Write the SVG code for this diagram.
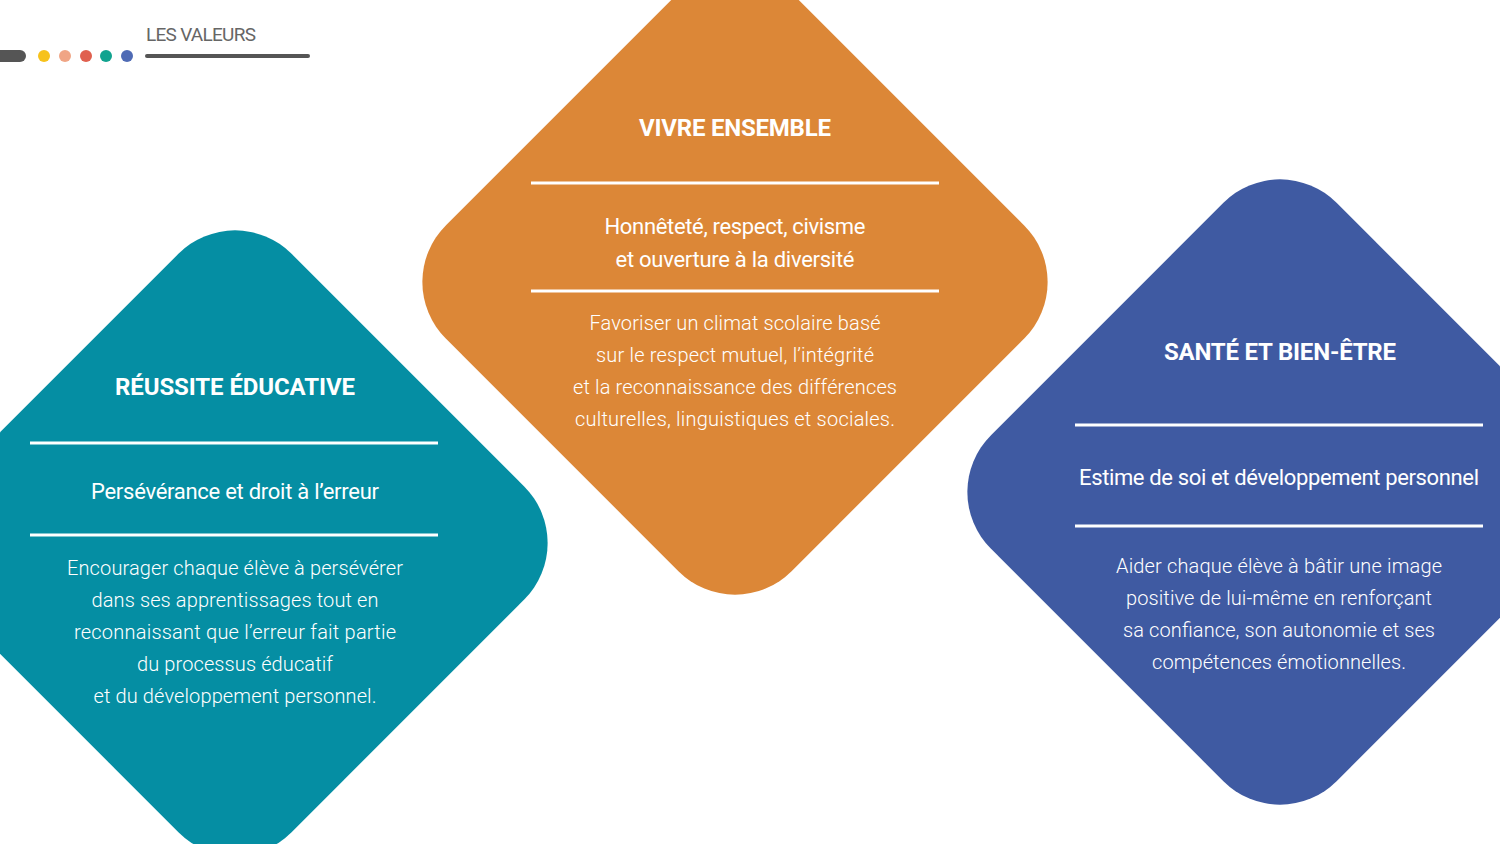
<svg xmlns="http://www.w3.org/2000/svg" width="1500" height="844" viewBox="0 0 1500 844">
<style>
text{font-family:Roboto,"Liberation Sans",sans-serif;fill:#fff;text-anchor:middle}
.t{font-weight:bold;font-size:24px}
.s{font-size:22px}
.b{font-size:20px;font-weight:300}
.l{stroke:#fff;stroke-width:3}
</style>
<defs><rect id="d" x="-244.5" y="-244.5" width="489" height="489" rx="80" transform="rotate(45)"/></defs>
<g id="header">
<rect x="-10" y="50" width="36" height="12" rx="6" fill="#555"/>
<circle cx="44" cy="56" r="6" fill="#f7c21b"/>
<circle cx="65" cy="56" r="6" fill="#f0a585"/>
<circle cx="86" cy="56" r="6" fill="#e0604f"/>
<circle cx="106" cy="56" r="6" fill="#11a38f"/>
<circle cx="127" cy="56" r="6" fill="#4f6bb5"/>
<line x1="147" y1="56" x2="308" y2="56" stroke="#555" stroke-width="4" stroke-linecap="round"/>
<text x="146" y="41" style="text-anchor:start;fill:#666;font-size:19px" textLength="110">LES VALEURS</text>
</g>
<g id="vivre">
<use href="#d" transform="translate(735,282)" fill="#dc8737"/>
<text class="t" x="735" y="136" textLength="192">VIVRE ENSEMBLE</text>
<line class="l" x1="531" y1="183" x2="939" y2="183"/>
<text class="s" x="735" y="234" textLength="261">Honnêteté, respect, civisme</text>
<text class="s" x="735" y="267" textLength="239">et ouverture à la diversité</text>
<line class="l" x1="531" y1="291" x2="939" y2="291"/>
<text class="b" x="735" y="330" textLength="291">Favoriser un climat scolaire basé</text>
<text class="b" x="735" y="362" textLength="278">sur le respect mutuel, l’intégrité</text>
<text class="b" x="735" y="394" textLength="324">et la reconnaissance des différences</text>
<text class="b" x="735" y="426" textLength="320">culturelles, linguistiques et sociales.</text>
</g>
<g id="reussite">
<use href="#d" transform="translate(235,543)" fill="#058ea3"/>
<text class="t" x="235" y="395" textLength="240">RÉUSSITE ÉDUCATIVE</text>
<line class="l" x1="30" y1="443" x2="438" y2="443"/>
<text class="s" x="235" y="499" textLength="288">Persévérance et droit à l’erreur</text>
<line class="l" x1="30" y1="535" x2="438" y2="535"/>
<text class="b" x="235" y="575" textLength="336">Encourager chaque élève à persévérer</text>
<text class="b" x="235" y="607" textLength="287">dans ses apprentissages tout en</text>
<text class="b" x="235" y="639" textLength="322">reconnaissant que l’erreur fait partie</text>
<text class="b" x="235" y="671" textLength="196">du processus éducatif</text>
<text class="b" x="235" y="703" textLength="283">et du développement personnel.</text>
</g>
<g id="sante">
<use href="#d" transform="translate(1280,492)" fill="#3f5aa2"/>
<text class="t" x="1280" y="360" textLength="232">SANTÉ ET BIEN-ÊTRE</text>
<line class="l" x1="1075" y1="425" x2="1483" y2="425"/>
<text class="s" x="1279" y="485" textLength="400">Estime de soi et développement personnel</text>
<line class="l" x1="1075" y1="526" x2="1483" y2="526"/>
<text class="b" x="1279" y="573" textLength="326">Aider chaque élève à bâtir une image</text>
<text class="b" x="1279" y="605" textLength="306">positive de lui-même en renforçant</text>
<text class="b" x="1279" y="637" textLength="312">sa confiance, son autonomie et ses</text>
<text class="b" x="1279" y="669" textLength="254">compétences émotionnelles.</text>
</g>
<g id="connectors"/>
</svg>
